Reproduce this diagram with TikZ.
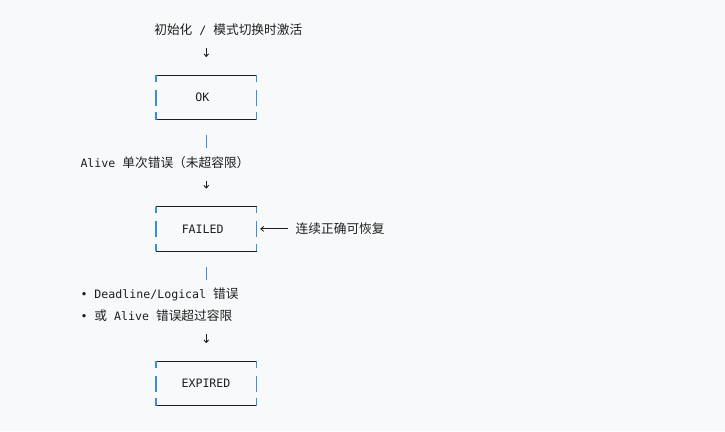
\documentclass[tikz,border=0pt]{standalone}
\usepackage{fontspec}
\newfontfamily\monof{DejaVu Sans Mono}
\newfontfamily\cjkf{Noto Sans CJK SC}
\usetikzlibrary{arrows.meta}
\definecolor{bg}{HTML}{F8F9FB}
\definecolor{ink}{HTML}{1E1E1E}
\definecolor{barblue}{HTML}{3A8EE0}
\newcommand\M[1]{{\fontsize{11.6pt}{14pt}\selectfont\monof #1}}
\newcommand\C[1]{{\fontsize{12.7pt}{14pt}\selectfont\cjkf #1}}
\newcommand\stframe[1]{%
  \draw[hline] (#1.north west) -- (#1.north east);
  \draw[hline] (#1.south west) -- (#1.south east);
  \foreach \s in {west,east}{%
    \draw[vbar] (#1.north \s) -- ++(0,6.7);
    \draw[vbar] (#1.\s) ++(0,-7.5) -- ++(0,16);
    \draw[vbar] (#1.south \s) -- ++(0,-7.5);
  }%
}
\tikzset{
  stbox/.style={minimum width=100.5pt, minimum height=44pt, inner sep=0pt, draw=none},
  txt/.style={inner sep=0pt, text=ink, text height=9pt, text depth=2.5pt},
  hline/.style={draw=ink, line width=0.9pt},
  vbar/.style={draw=barblue, line width=1.4pt},
  bar/.style={draw=barblue, line width=1.4pt, shorten <=15.7pt, shorten >=10pt},
  darr/.style={draw=ink, line width=0.9pt, -{Straight Barb[length=2.6pt,width=4.8pt]}, shorten <=10.3pt, shorten >=18pt},
  larr/.style={draw=ink, line width=0.8pt, -{Straight Barb[length=3pt,width=5pt]}, shorten <=7.5pt, shorten >=3.5pt},
}
\begin{document}
\begin{tikzpicture}[x=1pt,y=-1pt]
\path[fill=bg] (0,0) rectangle (725,431);
\useasboundingbox (0,0) rectangle (725,431);

% boxes
\node[stbox] (ok) at (206.25,97.3) {};
\node[stbox] (failed) at (206.25,228.85) {};
\node[stbox] (expired) at (206.25,383.35) {};
\stframe{ok}
\stframe{failed}
\stframe{expired}

% box texts
\node[txt] (oktxt) at (202.3,98.3) {\M{OK}};
\node[txt] (failedtxt) at (202.7,230) {\M{FAILED}};
\node[txt] (expiredtxt) at (206,384) {\M{EXPIRED}};

% labels
\node[txt] (init) at (228.3,31.7) {\C{初始化}\M{ / }\C{模式切换时激活}};
\node[txt, anchor=west] (alive) at (80.3,164.3) {\M{Alive }\C{单次错误（未超容限）}};
\node[txt, anchor=west] (b1) at (80.3,295.7) {\M{• Deadline/Logical }\C{错误}};
\node[txt, anchor=west] (b2) at (80.3,317.7) {\M{• }\C{或}\M{ Alive }\C{错误超过容限}};
\node[txt, anchor=west] (recover) at (295.5,230) {\C{连续正确可恢复}};

% connectors
\draw[darr] (ok |- init.south) -- (ok.north);
\draw[bar] (ok.south) -- (ok |- alive.north);
\draw[darr] (failed |- alive.south) -- (failed.north);
\draw[bar] (failed.south) -- (failed |- b1.north);
\draw[darr] (expired |- b2.south) -- (expired.north);
\draw[larr] (recover.west |- failed.east) -- (failed.east);
\end{tikzpicture}
\end{document}
